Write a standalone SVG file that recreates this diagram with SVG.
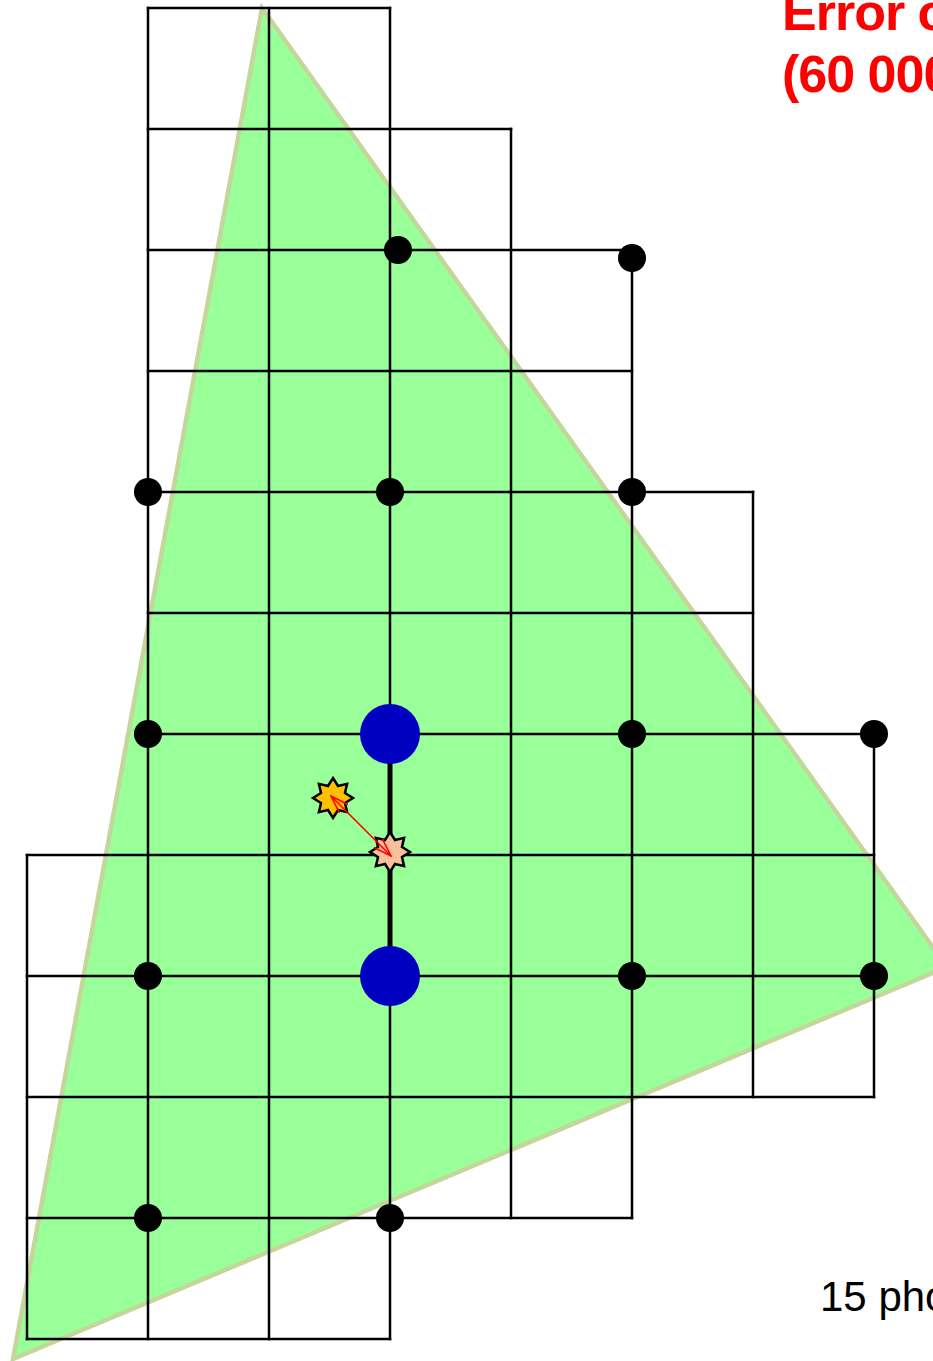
<svg xmlns="http://www.w3.org/2000/svg" width="933" height="1361" viewBox="0 0 933 1361">
<defs>
<style>
.grid line{stroke:#000;stroke-width:2.5;stroke-linecap:square}
.dot{fill:#000}
.big{fill:#0000C0}
.star{stroke:#000;stroke-width:2.5}
.lbl-red{font-family:"Liberation Sans",Arial,sans-serif;font-weight:bold;font-size:52px;fill:#FF0000;letter-spacing:-1px}
.lbl{font-family:"Liberation Sans",Arial,sans-serif;font-size:42px;fill:#000}
</style>
<marker id="ah" viewBox="0 0 20 14" refX="19" refY="7" markerWidth="20" markerHeight="14" markerUnits="userSpaceOnUse" orient="auto-start-reverse">
<path d="M1,1 L19,7 L1,13" fill="none" stroke="#FF0000" stroke-width="1.6"/>
</marker>
</defs>
<rect width="933" height="1361" fill="#fff"/>
<g id="triangle">
<polygon points="262,8 947,967 13,1359" fill="#99FF99" stroke="#C4D79B" stroke-width="4.5" stroke-linejoin="miter"/>
</g>
<g id="connectors" class="grid">
<line x1="148" y1="8" x2="390" y2="8"/>
<line x1="148" y1="129" x2="511" y2="129"/>
<line x1="148" y1="250" x2="632" y2="250"/>
<line x1="148" y1="371" x2="632" y2="371"/>
<line x1="148" y1="492" x2="753" y2="492"/>
<line x1="148" y1="613" x2="753" y2="613"/>
<line x1="148" y1="734" x2="874" y2="734"/>
<line x1="27" y1="855" x2="874" y2="855"/>
<line x1="27" y1="976" x2="874" y2="976"/>
<line x1="27" y1="1097" x2="874" y2="1097"/>
<line x1="27" y1="1218" x2="632" y2="1218"/>
<line x1="27" y1="1339" x2="390" y2="1339"/>
<line x1="27" y1="855" x2="27" y2="1339"/>
<line x1="148" y1="8" x2="148" y2="1339"/>
<line x1="269" y1="8" x2="269" y2="1339"/>
<line x1="390" y1="8" x2="390" y2="1339"/>
<line x1="511" y1="129" x2="511" y2="1218"/>
<line x1="632" y1="258" x2="632" y2="1218"/>
<line x1="753" y1="492" x2="753" y2="1097"/>
<line x1="874" y1="734" x2="874" y2="1097"/>
<line x1="390" y1="734" x2="390" y2="976" style="stroke-width:5"/>
</g>
<g id="dots">
<circle class="dot" cx="398" cy="250" r="14"/>
<circle class="dot" cx="632" cy="258" r="14"/>
<circle class="dot" cx="148" cy="492" r="14"/>
<circle class="dot" cx="390" cy="492" r="14"/>
<circle class="dot" cx="632" cy="492" r="14"/>
<circle class="dot" cx="148" cy="734" r="14"/>
<circle class="dot" cx="632" cy="734" r="14"/>
<circle class="dot" cx="874" cy="734" r="14"/>
<circle class="dot" cx="148" cy="976" r="14"/>
<circle class="dot" cx="632" cy="976" r="14"/>
<circle class="dot" cx="874" cy="976" r="14"/>
<circle class="dot" cx="148" cy="1218" r="14"/>
<circle class="dot" cx="390" cy="1218" r="14"/>
</g>
<g id="blue-nodes">
<circle class="big" cx="390" cy="734" r="30"/>
<circle class="big" cx="390" cy="976" r="30"/>
</g>
<g id="star-orange">
<polygon class="star" fill="#FFC000" transform="translate(333,798)" points="0,-20 5,-12 14.1,-14.1 12,-5 20,0 12,5 14.1,14.1 5,12 0,20 -5,12 -14.1,14.1 -12,5 -20,0 -12,-5 -14.1,-14.1 -5,-12"/>
</g>
<g id="star-pale">
<polygon class="star" fill="#F8C09A" transform="translate(390,852)" points="0,-20 5,-12 14.1,-14.1 12,-5 20,0 12,5 14.1,14.1 5,12 0,20 -5,12 -14.1,14.1 -12,5 -20,0 -12,-5 -14.1,-14.1 -5,-12"/>
</g>
<g id="arrow">
<line x1="391" y1="856" x2="331" y2="796" stroke="#FF0000" stroke-width="1.6" marker-start="url(#ah)" marker-end="url(#ah)"/>
</g>
<g id="labels">
<text class="lbl-red" x="782" y="30">Error of</text>
<text class="lbl-red" x="782" y="92">(60 000</text>
<text class="lbl" x="820" y="1311">15 pho</text>
</g>
</svg>
